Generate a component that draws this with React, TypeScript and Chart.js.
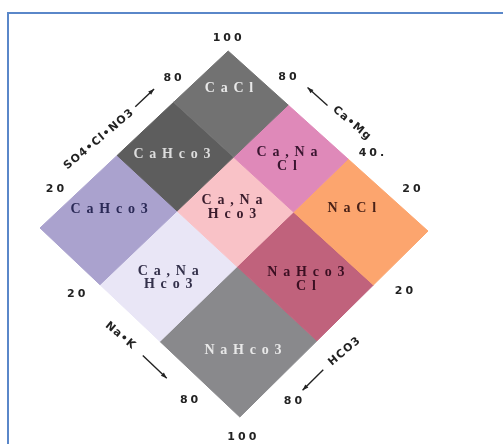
import { useEffect, useRef } from 'react';
import { Chart, registerables } from 'chart.js';

Chart.register(...registerables);

// Class boundaries, in percent along each side of the diamond
const anionSplits = [0, 29, 59, 100]; // SO4+Cl+NO3 side, top -> left corner
const cationSplits = [0, 30, 60, 100]; // Ca+Mg side, top -> right corner

// Water types, rows follow the anion side, columns the cation side
const faciesNames = [
  ['CaCl', 'Ca,Na\nCl', 'NaCl'],
  ['CaHco3', 'Ca,Na\nHco3', 'NaHco3\nCl'],
  ['CaHco3', 'Ca,Na\nHco3', 'NaHco3'],
];
const faciesColors = [
  ['#727272', '#df89b9', '#fca56e'],
  ['#5d5d5d', '#f9c2c7', '#c0627c'],
  ['#aaa2ce', '#e9e6f6', '#89898c'],
];
const faciesTextColors = [
  ['#e8e8e8', '#3a1530', '#4a2218'],
  ['#dddddd', '#3a1c2c', '#3b0f22'],
  ['#2a2956', '#33304a', '#e8e8e8'],
];
// Where each name sits, as [anion %, cation %]
const faciesLabelAt = [
  [[10.5, 10.3], [15.8, 44.3], [12.9, 74]],
  [[44.3, 13.6], [43.7, 43.1], [44.7, 81]],
  [[76.5, 12.5], [80.2, 45.5], [80.9, 83.6]],
];

// Tick labels on each side, with their place in percent along that side
const anionTicks = ['80', '20'];
const anionTickAt = [23, 85.5];
const cationTicks = ['80', '40.', '20'];
const cationTickAt = [23, 65, 85];
const sodiumTicks = ['20', '80'];
const sodiumTickAt = [26, 82.5];
const bicarbTicks = ['20', '80'];
const bicarbTickAt = [22.5, 81.5];
const apexTicks = ['100', '100'];

// Side titles and the percent along the side where they sit
const sideTitles = ['SO4•Cl•NO3', 'Ca•Mg', 'Na•K', 'HCO3'];
const sideTitleAt = [60, 52, 48, 54.5];
const sideArrowFrom = [41, 41, 59, 65];
const sideArrowTo = [31, 31, 71, 76];

// the drawn diamond leans a little and its lower half is slightly taller
const TILT = 0.03;
const toXY = (u: number, v: number) => ({
  x: v - u + TILT * (u + v - 100),
  y: 0.967 * u + 0.984 * v + 0.00049 * u * v,
});

type Side = 'ul' | 'ur' | 'll' | 'lr';
const sideEnds: Record<Side, [[number, number], [number, number]]> = {
  ul: [[0, 0], [100, 0]],
  ur: [[0, 0], [0, 100]],
  ll: [[100, 0], [100, 100]],
  lr: [[0, 100], [100, 100]],
};
const sideOrder: Side[] = ['ul', 'ur', 'll', 'lr'];
const tickOffset: Record<Side, number> = { ul: 18, ur: 20, ll: 23, lr: 26 };
const titleOffset = [24, 29, 23, 27];
const arrowOffset = [23, 26, 22, 25];
const titleAngle = [-40, 40, 40, -40];

function spacedText(ctx: CanvasRenderingContext2D, text: string, x: number, y: number, spacing: number) {
  (ctx as any).letterSpacing = `${spacing}px`;
  ctx.fillText(text, x + spacing / 2, y);
  (ctx as any).letterSpacing = '0px';
}

const diamondText = {
  id: 'diamondText',
  afterDatasetsDraw(chart: any) {
    const { ctx, scales } = chart;
    const px = (u: number, v: number): [number, number] => {
      const p = toXY(u, v);
      return [scales.x.getPixelForValue(p.x), scales.y.getPixelForValue(p.y)];
    };
    const mid = px(50, 50);
    const along = (side: Side, f: number, d: number): [number, number] => {
      const [a, b] = sideEnds[side];
      const p0 = px(a[0], a[1]);
      const p1 = px(b[0], b[1]);
      const t = f / 100;
      const x = p0[0] + (p1[0] - p0[0]) * t;
      const y = p0[1] + (p1[1] - p0[1]) * t;
      let nx = p1[1] - p0[1];
      let ny = -(p1[0] - p0[0]);
      const len = Math.hypot(nx, ny);
      nx /= len;
      ny /= len;
      if ((x - mid[0]) * nx + (y - mid[1]) * ny < 0) {
        nx = -nx;
        ny = -ny;
      }
      return [x + nx * d, y + ny * d];
    };

    ctx.save();
    ctx.textAlign = 'center';
    ctx.textBaseline = 'middle';

    // names of the water types
    ctx.font = 'bold 14px "Liberation Serif", serif';
    faciesNames.forEach((row, i) =>
      row.forEach((name, j) => {
        const [u, v] = faciesLabelAt[i][j];
        const [x, y] = px(u, v);
        const lines = name.split('\n');
        ctx.fillStyle = faciesTextColors[i][j];
        lines.forEach((line, k) => {
          const dy = (k - (lines.length - 1) / 2) * 13.5;
          spacedText(ctx, line, x, y + dy, 5.8);
        });
      })
    );

    // tick numbers
    ctx.fillStyle = '#222222';
    ctx.font = 'bold 11px "DejaVu Sans", sans-serif';
    const tickSets: [string[], number[]][] = [
      [anionTicks, anionTickAt],
      [cationTicks, cationTickAt],
      [sodiumTicks, sodiumTickAt],
      [bicarbTicks, bicarbTickAt],
    ];
    tickSets.forEach(([labels, at], s) => {
      const side = sideOrder[s];
      labels.forEach((label, k) => {
        const [x, y] = along(side, at[k], tickOffset[side]);
        spacedText(ctx, label, x, y, 3);
      });
    });
    const top = px(0, 0);
    const bottom = px(100, 100);
    spacedText(ctx, apexTicks[0], top[0] - 1, top[1] - 13, 3);
    spacedText(ctx, apexTicks[1], bottom[0] + 2, bottom[1] + 20, 3);

    // side titles with their arrows
    ctx.font = 'bold 11px "DejaVu Sans", sans-serif';
    ctx.strokeStyle = '#222222';
    ctx.lineWidth = 1.4;
    sideTitles.forEach((title, s) => {
      const side = sideOrder[s];
      const [tx, ty] = along(side, sideTitleAt[s], titleOffset[s]);
      ctx.save();
      ctx.translate(tx, ty);
      ctx.rotate((titleAngle[s] * Math.PI) / 180);
      spacedText(ctx, title, 0, 0, 1.1);
      ctx.restore();

      const [ax, ay] = along(side, sideArrowFrom[s], arrowOffset[s]);
      const [bx, by] = along(side, sideArrowTo[s], arrowOffset[s]);
      ctx.beginPath();
      ctx.moveTo(ax, ay);
      ctx.lineTo(bx, by);
      ctx.stroke();
      const ang = Math.atan2(by - ay, bx - ax);
      ctx.beginPath();
      ctx.moveTo(bx, by);
      ctx.lineTo(bx - 6 * Math.cos(ang) + 2.2 * Math.sin(ang), by - 6 * Math.sin(ang) - 2.2 * Math.cos(ang));
      ctx.lineTo(bx - 6 * Math.cos(ang) - 2.2 * Math.sin(ang), by - 6 * Math.sin(ang) + 2.2 * Math.cos(ang));
      ctx.closePath();
      ctx.fill();
    });

    ctx.restore();
  },
};

function buildCells() {
  const sets: any[] = [];
  faciesColors.forEach((row, i) =>
    row.forEach((color, j) => {
      const u0 = anionSplits[i];
      const u1 = anionSplits[i + 1];
      const v0 = cationSplits[j];
      const v1 = cationSplits[j + 1];
      sets.push({
        label: faciesNames[i][j].replace('\n', ' '),
        data: [toXY(u0, v0), toXY(u1, v0), toXY(u1, v1), toXY(u0, v1), toXY(u0, v0)],
        showLine: true,
        fill: 'shape',
        backgroundColor: color,
        borderColor: color,
        borderWidth: 1,
        pointRadius: 0,
        pointHoverRadius: 0,
        tension: 0,
        clip: false,
      });
    })
  );
  return sets;
}

export default function App() {
  const canvasRef = useRef<HTMLCanvasElement | null>(null);

  useEffect(() => {
    if (!canvasRef.current) return;
    const chart = new Chart(canvasRef.current, {
      type: 'scatter',
      data: { datasets: buildCells() },
      options: {
        animation: false,
        responsive: false,
        maintainAspectRatio: false,
        devicePixelRatio: 1,
        layout: { padding: { left: 40, right: 75, top: 51, bottom: 27 } },
        scales: {
          x: { type: 'linear', min: -100, max: 100, display: false },
          y: { type: 'linear', min: 0, max: 200, reverse: true, display: false },
        },
        plugins: {
          legend: { display: false },
          tooltip: { enabled: false },
        },
      },
      plugins: [diamondText],
    });
    return () => chart.destroy();
  }, []);

  return (
    <div style={{ position: 'fixed', left: 0, top: 0, width: 503, height: 444, background: '#ffffff', overflow: 'hidden' }}>
      <div
        style={{
          position: 'absolute',
          left: 7,
          top: 12,
          width: 560,
          height: 560,
          border: '2px solid #5a87c9',
          boxSizing: 'border-box',
        }}
      />
      <canvas ref={canvasRef} width={503} height={444} style={{ position: 'absolute', left: 0, top: 0 }} />
    </div>
  );
}
